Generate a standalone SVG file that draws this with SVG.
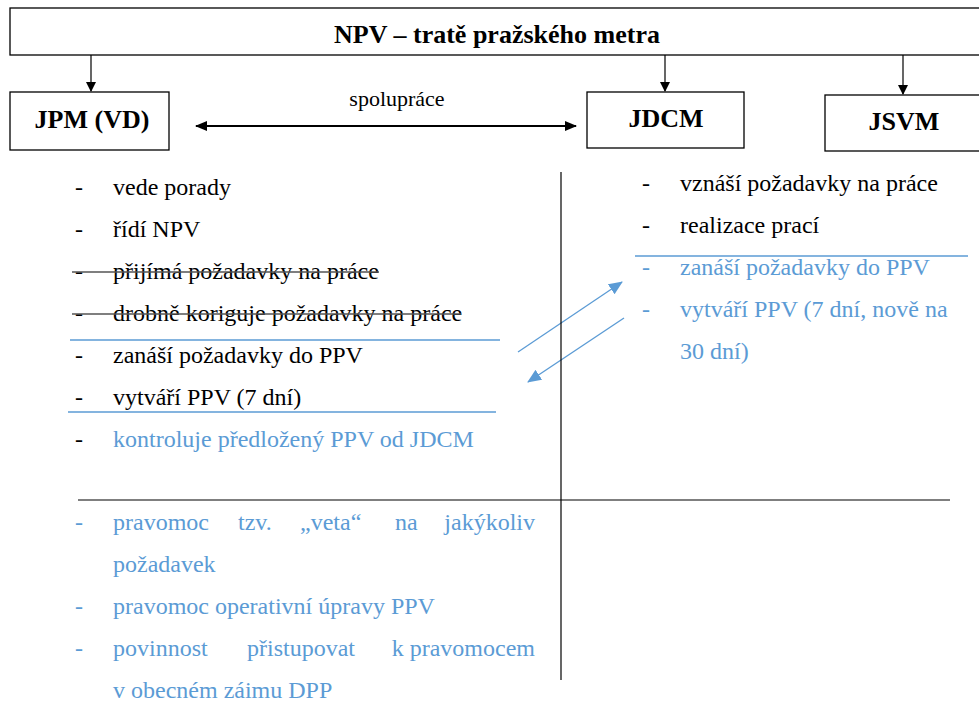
<svg xmlns="http://www.w3.org/2000/svg" width="979" height="702" viewBox="0 0 979 702">
<defs>
<marker id="ah" markerWidth="10" markerHeight="10" refX="9" refY="5" orient="auto" markerUnits="userSpaceOnUse"><path d="M0,0 L10,5 L0,10 z" fill="#000"/></marker>
<marker id="ahs" markerWidth="12" markerHeight="12" refX="11" refY="6" orient="auto-start-reverse" markerUnits="userSpaceOnUse"><path d="M0,1 L12,6 L0,11 z" fill="#000"/></marker>
<marker id="ahb" markerWidth="14" markerHeight="12" refX="13" refY="6" orient="auto" markerUnits="userSpaceOnUse"><path d="M0,0 L14,6 L0,12 z" fill="#5B9BD5"/></marker>
</defs>
<rect width="979" height="702" fill="#fff"/>
<g id="top"><rect x="10" y="8" width="975" height="47" fill="#fff" stroke="#000" stroke-width="1.3"/><text x="497" y="43" font-family="Times New Roman" font-weight="bold" font-size="26" text-anchor="middle">NPV – tratě pražského metra</text></g>
<g id="jpm"><rect x="10" y="92" width="159" height="58" fill="#fff" stroke="#000" stroke-width="1.3"/><text x="92" y="128" font-family="Times New Roman" font-weight="bold" font-size="26" text-anchor="middle">JPM (VD)</text></g>
<g id="jdcm"><rect x="587" y="92" width="157" height="56" fill="#fff" stroke="#000" stroke-width="1.3"/><text x="666" y="127" font-family="Times New Roman" font-weight="bold" font-size="26" text-anchor="middle">JDCM</text></g>
<g id="jsvm"><rect x="825" y="95" width="160" height="56" fill="#fff" stroke="#000" stroke-width="1.3"/><text x="904" y="130" font-family="Times New Roman" font-weight="bold" font-size="26" text-anchor="middle">JSVM</text></g>
<g id="connectors">
<line x1="91" y1="55" x2="91" y2="91" stroke="#000" stroke-width="1.2" marker-end="url(#ah)"/>
<line x1="665" y1="55" x2="665" y2="91" stroke="#000" stroke-width="1.2" marker-end="url(#ah)"/>
<line x1="903" y1="55" x2="903" y2="94" stroke="#000" stroke-width="1.2" marker-end="url(#ah)"/>
<line x1="196" y1="126" x2="576" y2="126" stroke="#000" stroke-width="2" marker-start="url(#ahs)" marker-end="url(#ahs)"/>
<line x1="518" y1="352" x2="622" y2="282" stroke="#5B9BD5" stroke-width="1.3" marker-end="url(#ahb)"/>
<line x1="624" y1="318" x2="528" y2="382" stroke="#5B9BD5" stroke-width="1.3" marker-end="url(#ahb)"/>
</g>
<text x="397" y="106" font-family="Times New Roman" font-size="22" text-anchor="middle">spolupráce</text>
<g id="grid">
<line x1="561" y1="172" x2="561" y2="680" stroke="#000" stroke-width="1.2"/>
<line x1="78" y1="500" x2="950" y2="500" stroke="#000" stroke-width="1.2"/>
<line x1="70" y1="340" x2="500" y2="340" stroke="#5B9BD5" stroke-width="1.3"/>
<line x1="68" y1="412" x2="496" y2="412" stroke="#5B9BD5" stroke-width="1.3"/>
<line x1="635" y1="256" x2="968" y2="256" stroke="#5B9BD5" stroke-width="1.3"/>
</g>
<g id="jpm-list">
<text x="75" y="195" font-family="Times New Roman" font-size="24">-</text><text x="113" y="195" font-family="Times New Roman" font-size="24">vede porady</text>
<text x="75" y="237" font-family="Times New Roman" font-size="24">-</text><text x="113" y="237" font-family="Times New Roman" font-size="24">řídí NPV</text>
<text x="75" y="279" font-family="Times New Roman" font-size="24">-</text><text x="113" y="279" font-family="Times New Roman" font-size="24">přijímá požadavky na práce</text>
<line x1="72" y1="272" x2="379" y2="272" stroke="#555" stroke-width="1.3"/>
<text x="75" y="321" font-family="Times New Roman" font-size="24">-</text><text x="113" y="321" font-family="Times New Roman" font-size="24">drobně koriguje požadavky na práce</text>
<line x1="72" y1="314" x2="461" y2="314" stroke="#555" stroke-width="1.3"/>
<text x="75" y="363" font-family="Times New Roman" font-size="24">-</text><text x="113" y="363" font-family="Times New Roman" font-size="24">zanáší požadavky do PPV</text>
<text x="75" y="405" font-family="Times New Roman" font-size="24">-</text><text x="113" y="405" font-family="Times New Roman" font-size="24">vytváří PPV (7 dní)</text>
<text x="75" y="447" font-family="Times New Roman" font-size="24">-</text><text x="113" y="447" font-family="Times New Roman" font-size="24" fill="#5B9BD5">kontroluje předložený PPV od JDCM</text>
</g>
<g id="jdcm-list">
<text x="642" y="191" font-family="Times New Roman" font-size="24">-</text><text x="680" y="191" font-family="Times New Roman" font-size="24">vznáší požadavky na práce</text>
<text x="642" y="233" font-family="Times New Roman" font-size="24">-</text><text x="680" y="233" font-family="Times New Roman" font-size="24">realizace prací</text>
<text x="642" y="275" font-family="Times New Roman" font-size="24" fill="#5B9BD5">-</text><text x="680" y="275" font-family="Times New Roman" font-size="24" fill="#5B9BD5">zanáší požadavky do PPV</text>
<text x="642" y="317" font-family="Times New Roman" font-size="24" fill="#5B9BD5">-</text><text x="680" y="317" font-family="Times New Roman" font-size="24" fill="#5B9BD5">vytváří PPV (7 dní, nově na</text>
<text x="680" y="359" font-family="Times New Roman" font-size="24" fill="#5B9BD5">30 dní)</text>
</g>
<g id="bottom-list">
<text x="75" y="530" font-family="Times New Roman" font-size="24" fill="#5B9BD5">-</text>
<text x="113" y="530" font-family="Times New Roman" font-size="24" fill="#5B9BD5">pravomoc</text><text x="238" y="530" font-family="Times New Roman" font-size="24" fill="#5B9BD5">tzv.</text><text x="300" y="530" font-family="Times New Roman" font-size="24" fill="#5B9BD5">„veta“</text><text x="395" y="530" font-family="Times New Roman" font-size="24" fill="#5B9BD5">na</text><text x="535" y="530" font-family="Times New Roman" font-size="24" fill="#5B9BD5" text-anchor="end">jakýkoliv</text>
<text x="113" y="572" font-family="Times New Roman" font-size="24" fill="#5B9BD5">požadavek</text>
<text x="75" y="614" font-family="Times New Roman" font-size="24" fill="#5B9BD5">-</text><text x="113" y="614" font-family="Times New Roman" font-size="24" fill="#5B9BD5">pravomoc operativní úpravy PPV</text>
<text x="75" y="656" font-family="Times New Roman" font-size="24" fill="#5B9BD5">-</text>
<text x="113" y="656" font-family="Times New Roman" font-size="24" fill="#5B9BD5">povinnost</text><text x="247" y="656" font-family="Times New Roman" font-size="24" fill="#5B9BD5">přistupovat</text><text x="535" y="656" font-family="Times New Roman" font-size="24" fill="#5B9BD5" text-anchor="end">k pravomocem</text>
<text x="113" y="698" font-family="Times New Roman" font-size="24" fill="#5B9BD5">v obecném záimu DPP</text>
</g>
</svg>
